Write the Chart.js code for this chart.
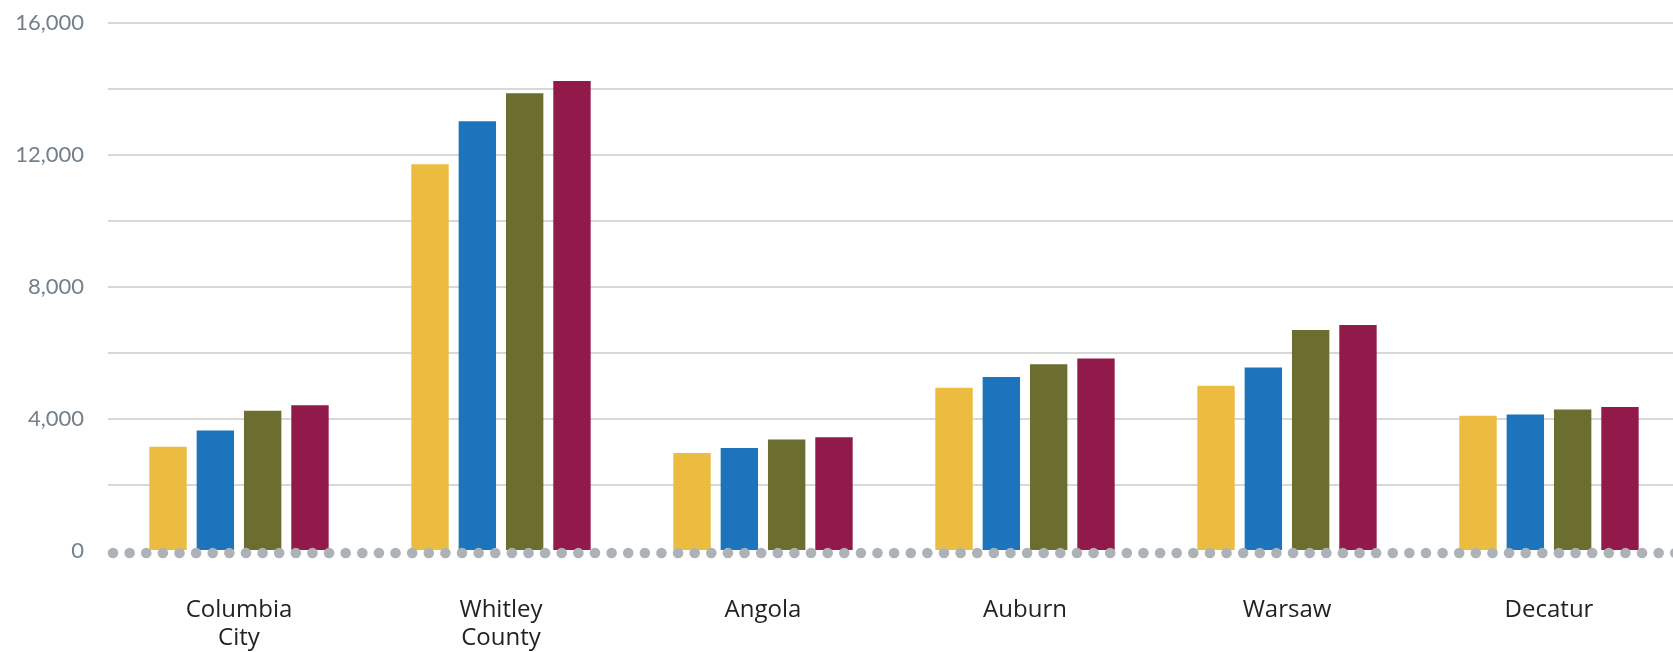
<!DOCTYPE html>
<html>
<head>
<meta charset="utf-8">
<script src="https://cdn.jsdelivr.net/npm/chart.js@4/dist/chart.umd.min.js"></script>
<style>
  html, body { margin: 0; padding: 0; background: #fff; overflow: hidden; }
  #wrap { width: 1680px; height: 652px; }
</style>
</head>
<body>
<div id="wrap"><canvas id="myChart" width="1680" height="652"></canvas></div>
<script>
// categories and values
var cities = [['Columbia', 'City'], ['Whitley', 'County'], 'Angola', 'Auburn', 'Warsaw', 'Decatur'];
var series1 = [3160, 11720, 2970, 4950, 5010, 4100];
var series2 = [3650, 13020, 3120, 5270, 5560, 4140];
var series3 = [4250, 13870, 3380, 5660, 6700, 4290];
var series4 = [4420, 14240, 3450, 5830, 6850, 4360];
var yTicks = [0, 4000, 8000, 12000, 16000];

// dotted zero line, drawn over the bars
var zeroDots = {
  id: 'zeroDots',
  afterDatasetsDraw: function(chart) {
    var ctx = chart.ctx;
    var y = chart.scales.y.getPixelForValue(0) + 2;
    ctx.save();
    ctx.fillStyle = '#adb2b7';
    for (var x = chart.chartArea.left + 5; x < chart.width + 6; x += 16.62) {
      ctx.beginPath();
      ctx.arc(x, y, 5.3, 0, Math.PI * 2);
      ctx.fill();
    }
    ctx.restore();
  }
};

var ctx = document.getElementById('myChart').getContext('2d');
var chart = new Chart(ctx, {
  type: 'bar',
  data: {
    labels: cities,
    datasets: [
      { label: 'Series 1', backgroundColor: '#ecbc41', data: series1 },
      { label: 'Series 2', backgroundColor: '#1d74bc', data: series2 },
      { label: 'Series 3', backgroundColor: '#6c6e2f', data: series3 },
      { label: 'Series 4', backgroundColor: '#921a4b', data: series4 }
    ]
  },
  options: {
    responsive: false,
    animation: false,
    layout: { padding: { top: 23, right: 0, bottom: 0, left: 0 } },
    plugins: { legend: { display: false }, tooltip: { enabled: false } },
    datasets: { bar: { categoryPercentage: 0.7225, barPercentage: 0.79, borderWidth: 0 } },
    scales: {
      x: {
        grid: { display: false, drawTicks: false },
        border: { display: false },
        ticks: {
          color: '#222222',
          padding: 46,
          font: { family: 'Open Sans', size: 24, lineHeight: 1.13 }
        },
        afterFit: function(scale) { scale.height = 101; }
      },
      y: {
        min: 0,
        max: 16000,
        grid: {
          drawTicks: false,
          lineWidth: 2,
          color: function(c) { return c.tick && c.tick.value === 0 ? 'rgba(0,0,0,0)' : '#d8d8d8'; }
        },
        border: { display: false },
        ticks: {
          stepSize: 2000,
          color: '#72808b',
          padding: 24,
          font: { family: 'Lato', size: 22 },
          callback: function(v) { return yTicks.indexOf(v) >= 0 ? v.toLocaleString('en-US') : ''; }
        },
        afterFit: function(scale) { scale.width = 108; scale.paddingTop = 0; }
      }
    }
  },
  plugins: [zeroDots]
});
</script>
</body>
</html>
